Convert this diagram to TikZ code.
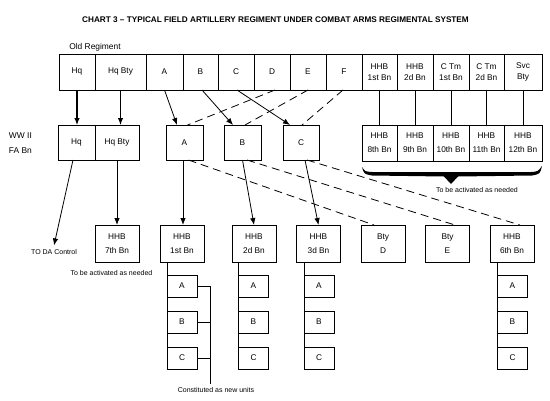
\documentclass[tikz,border=0pt]{standalone}
\usepackage{fontspec}
\setmainfont{Liberation Sans}
\usetikzlibrary{arrows.meta}

\begin{document}
\begin{tikzpicture}[x=1pt,y=-1pt]
\tikzset{ >={Latex[length=7pt,width=5.5pt]}, inner sep=0pt, outer sep=0pt,
  cell/.style={draw, line width=0.9pt, minimum height=36pt, align=center,
    font=\fontsize{8.3}{11.5}\selectfont},
  unit/.style={draw, line width=0.9pt, minimum width=44pt, minimum height=37pt, align=center,
    font=\fontsize{8.3}{14}\selectfont},
  sub/.style={draw, line width=0.9pt, minimum width=30pt, minimum height=22pt,
    font=\fontsize{8.3}{10}\selectfont},
  lbl/.style={font=\fontsize{8.4}{10}\selectfont},
  note/.style={font=\fontsize{7}{8}\selectfont},
  link/.style={line width=0.8pt},
  dlink/.style={line width=0.8pt, dash pattern=on 8pt off 5pt},
}

\useasboundingbox (0,0) rectangle (550,400);

%%% Titulo
\node [font=\fontsize{8.2}{9}\selectfont\bfseries] (Title) at (275.5,20)
  {CHART 3 -- TYPICAL FIELD ARTILLERY REGIMENT UNDER COMBAT ARMS REGIMENTAL SYSTEM};
\node [lbl] (OldReg) at (95,47) {Old Regiment};
\node [lbl, anchor=west] (WW) at (9,136) {WW II};
\node [lbl, anchor=west] (FABn) at (9,151) {FA Bn};

%%% Old Regiment
\node [cell, minimum width=36pt] (OHq)   at (77,72)    {Hq};
\node [cell, minimum width=51pt] (OHqB)  at (120.5,72) {Hq Bty};
\node [cell, minimum width=37pt] (OA)    at (164.5,72) {A};
\node [cell, minimum width=35pt] (OB)    at (200.5,72) {B};
\node [cell, minimum width=36pt] (OC)    at (236,72)   {C};
\node [cell, minimum width=36pt] (OD)    at (272,72)   {D};
\node [cell, minimum width=36pt] (OE)    at (308,72)   {E};
\node [cell, minimum width=36pt] (OF)    at (344,72)   {F};
\node [cell, minimum width=35pt] (OHHB1) at (379.5,72) {HHB\\1st Bn};
\node [cell, minimum width=36pt] (OHHB2) at (415,72)   {HHB\\2d Bn};
\node [cell, minimum width=36pt] (OCTm1) at (451,72)   {C Tm\\1st Bn};
\node [cell, minimum width=35pt] (OCTm2) at (486.5,72) {C Tm\\2d Bn};
\node [cell, minimum width=38pt] (OSvc)  at (523,72)   {Svc\\Bty};

%%% WW II FA Bn
\node [cell, minimum width=37pt, minimum height=35pt] (WHq)  at (76.5,142.5)  {Hq};
\node [cell, minimum width=44pt, minimum height=35pt] (WHqB) at (117,142.5)   {Hq Bty};
\node [cell, minimum width=37pt, minimum height=35pt] (WA)   at (184.5,142.5) {A};
\node [cell, minimum width=37pt, minimum height=35pt] (WB)   at (242.5,142.5) {B};
\node [cell, minimum width=36pt, minimum height=35pt] (WC)   at (301,142.5)   {C};

% HHB 8th..12th Bn
\node [cell, minimum width=35pt, font=\fontsize{8.3}{14}\selectfont] (N8)  at (379.5,143) {HHB\\8th Bn};
\node [cell, minimum width=36pt, font=\fontsize{8.3}{14}\selectfont] (N9)  at (415,143)   {HHB\\9th Bn};
\node [cell, minimum width=36pt, font=\fontsize{8.3}{14}\selectfont] (N10) at (451,143)   {HHB\\10th Bn};
\node [cell, minimum width=35pt, font=\fontsize{8.3}{14}\selectfont] (N11) at (486.5,143) {HHB\\11th Bn};
\node [cell, minimum width=38pt, font=\fontsize{8.3}{14}\selectfont] (N12) at (523,143)   {HHB\\12th Bn};

% chave
\fill (362,167) .. controls (364,174) .. (372,175.5) -- (444,176.5) -- (451,184)
  -- (458,176.5) -- (532,175.5) .. controls (540,174) .. (542,166)
  .. controls (538,171.5) .. (531,172) -- (372,172) .. controls (365,171.5) .. (362,167) -- cycle;
\node [note] (TBA2) at (477,190) {To be activated as needed};

%%% Novos batalhoes
\node [unit] (H7) at (117,243.5)   {HHB\\7th Bn};
\node [unit] (H1) at (182,243.5)   {HHB\\1st Bn};
\node [unit] (H2) at (254,243.5)   {HHB\\2d Bn};
\node [unit] (H3) at (318.5,243.5) {HHB\\3d Bn};
\node [unit] (BD) at (383,243.5)   {Bty\\D};
\node [unit] (BE) at (447.5,243.5) {Bty\\E};
\node [unit] (H6) at (512,243.5)   {HHB\\6th Bn};

\node [note] (DAC)  at (54,252)  {TO DA Control};
\node [note] (TBA1) at (111.5,273) {To be activated as needed};

% baterias A B C
\node [sub] (S1A) at (182,286) {A};
\node [sub] (S1B) at (182,322) {B};
\node [sub] (S1C) at (182,358) {C};
\node [sub] (S2A) at (253.5,286) {A};
\node [sub] (S2B) at (253.5,322) {B};
\node [sub] (S2C) at (253.5,358) {C};
\node [sub] (S3A) at (319,286) {A};
\node [sub] (S3B) at (319,322) {B};
\node [sub] (S3C) at (319,358) {C};
\node [sub] (S6A) at (512.5,286) {A};
\node [sub] (S6B) at (512.5,322) {B};
\node [sub] (S6C) at (512.5,358) {C};

\node [note] (CNU) at (216,390) {Constituted as new units};

%%% Linhas

% Old Regiment -> WW II
\draw [->, line width=1.1pt] (OHq.south) -- (OHq.south |- WHq.north);
\draw [->, line width=1.1pt] (OHqB.south) -- (OHqB.south |- WHqB.north);
\draw [->, link] (OA.south) -- ([xshift=-7.5pt]WA.north);
\draw [->, link] ([xshift=1.5pt]OB.south) -- ([xshift=-9.5pt]WB.north);
\draw [->, link] ([xshift=1pt]OC.south) -- ([xshift=-11pt]WC.north);
\draw [dlink] ([xshift=3pt]OD.south) -- ([xshift=3pt]WA.north);
\draw [dlink] (OE.south) -- ([xshift=2.5pt]WB.north);
\draw [dlink] ([xshift=-1pt]OF.south) -- ([xshift=1pt]WC.north);

% HHB -> HHB 8th..12th
\draw [link] (OHHB1.south) -- (N8.north);
\draw [link] (OHHB2.south) -- (N9.north);
\draw [link] (OCTm1.south) -- (N10.north);
\draw [link] (OCTm2.south) -- (N11.north);
\draw [link] (OSvc.south) -- (N12.north);

% WW II -> novos
\draw [->, link] ([xshift=-3.5pt]WHq.south) -- ([yshift=4pt]DAC.north);
\draw [->, link] (WHqB.south) -- (H7.north);
\draw [->, link] ([xshift=-1.5pt]WA.south) -- ([xshift=1pt]H1.north);
\draw [->, link] (WB.south) -- (H2.north);
\draw [->, link] ([xshift=4pt]WC.south) -- (H3.north);
\draw [dlink] ([xshift=4pt]WA.south) -- ([xshift=-9pt]BD.north);
\draw [dlink] ([xshift=4.5pt]WB.south) -- ([xshift=7.5pt]BE.north);
\draw [dlink] ([xshift=6pt]WC.south) -- ([xshift=8pt]H6.north);

% batalhao -> baterias
\draw [line width=0.9pt] (H1.south -| S1A.west) -- (S1C.south west);
\draw [line width=0.9pt] (H2.south -| S2A.west) -- (S2C.south west);
\draw [line width=0.9pt] (H3.south -| S3A.west) -- (S3C.south west);
\draw [line width=0.9pt] (H6.south -| S6A.west) -- (S6C.south west);

% constituted as new units
\draw [link] (S1A.east) -- ++(13,0) coordinate (K1) -- ([yshift=3pt]K1 |- CNU.north);
\draw [link] (S1B.east) -- (S1B.east -| K1);
\draw [link] (S1C.east) -- (S1C.east -| K1);

\end{tikzpicture}
\end{document}
